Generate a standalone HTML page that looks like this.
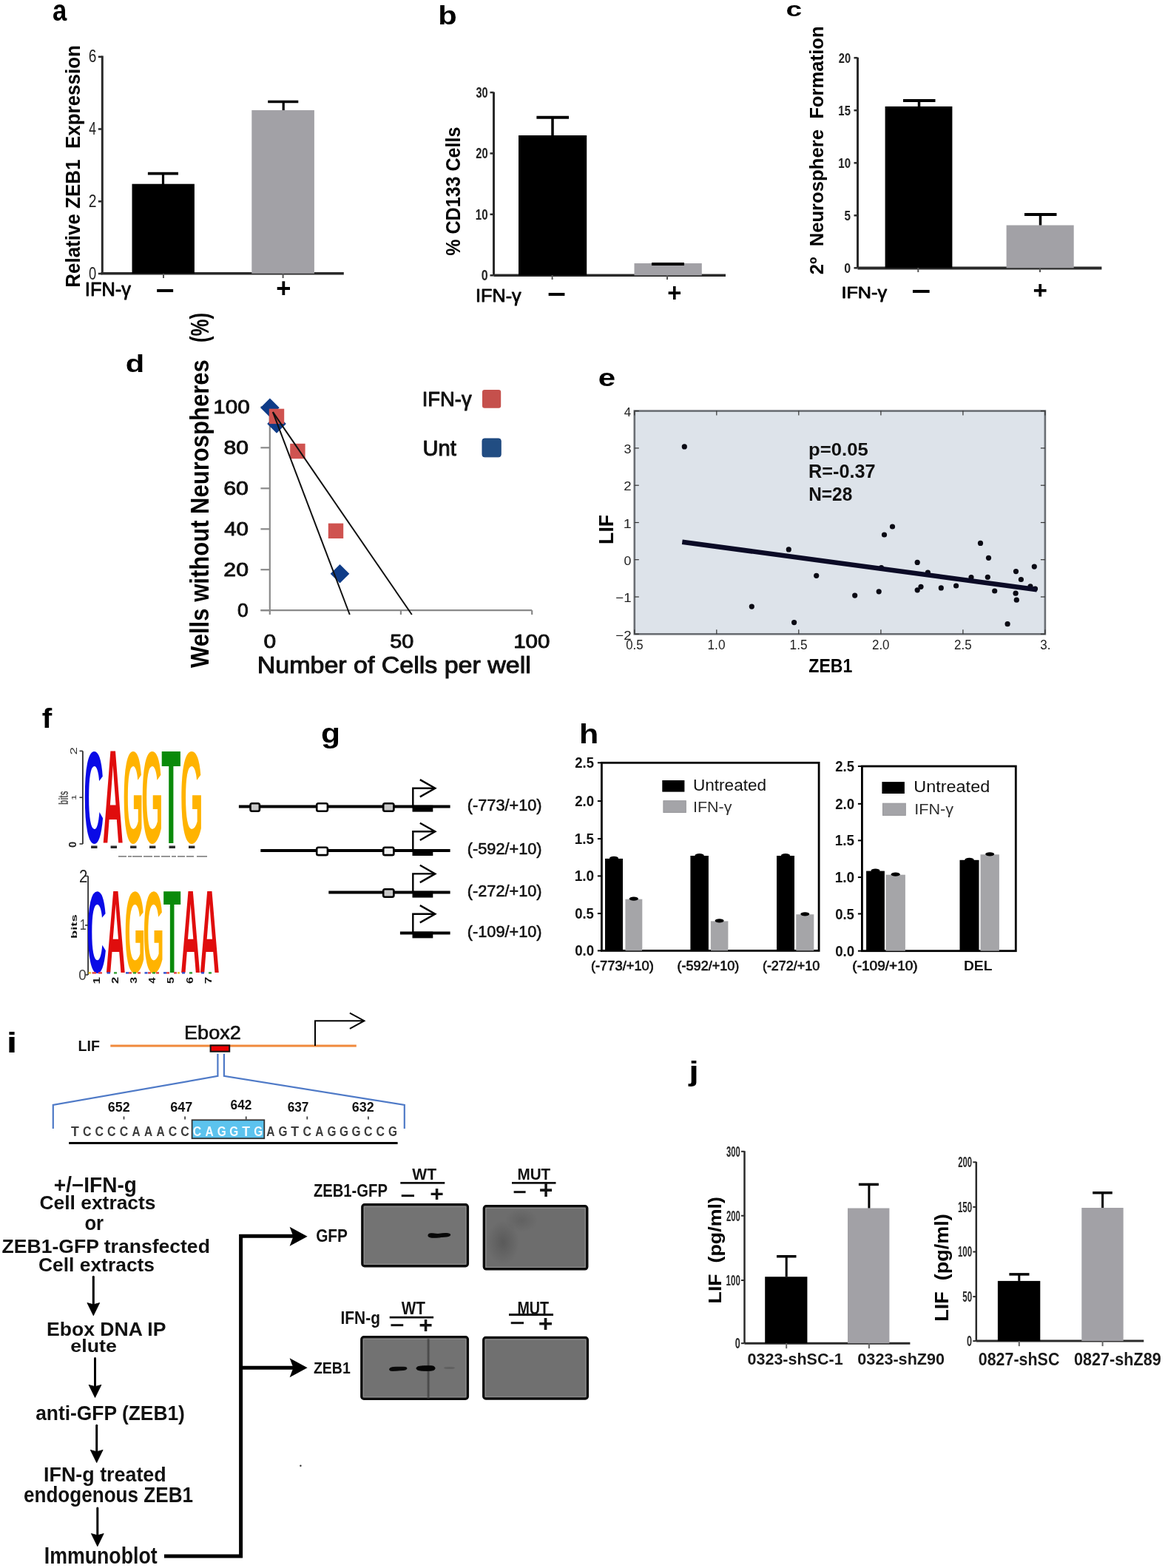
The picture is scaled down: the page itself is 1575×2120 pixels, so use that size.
<!DOCTYPE html>
<html><head><meta charset="utf-8"><title>Figure</title>
<style>html,body{margin:0;padding:0;background:#fff;overflow:hidden;width:1575px;height:2120px;} svg{display:block;filter:blur(0.65px);} text{white-space:pre;}</style>
</head><body>
<svg width="1575" height="2120" viewBox="0 0 1575 2120">
<rect x="0" y="0" width="1575" height="2120" fill="#fff"/>
<text x="70.88" y="28.20" font-size="40.70" font-family='"Liberation Sans", Arial, sans-serif' font-weight="bold" fill="#000" textLength="19.30" lengthAdjust="spacingAndGlyphs">a</text>
<line x1="138.3" y1="75.5" x2="138.3" y2="370.0" stroke="#2a2a2a" stroke-width="3"/>
<line x1="136.4" y1="369.8" x2="464.8" y2="369.8" stroke="#2a2a2a" stroke-width="3.6"/>
<line x1="132.8" y1="76.8" x2="138.3" y2="76.8" stroke="#2a2a2a" stroke-width="2.5"/>
<text x="119.73" y="84.30" font-size="23.26" font-family='"Liberation Sans", Arial, sans-serif' fill="#222" textLength="10.61" lengthAdjust="spacingAndGlyphs">6</text>
<line x1="132.8" y1="174.5" x2="138.3" y2="174.5" stroke="#2a2a2a" stroke-width="2.5"/>
<text x="120.30" y="182.00" font-size="23.26" font-family='"Liberation Sans", Arial, sans-serif' fill="#222" textLength="9.71" lengthAdjust="spacingAndGlyphs">4</text>
<line x1="132.8" y1="272.3" x2="138.3" y2="272.3" stroke="#2a2a2a" stroke-width="2.5"/>
<text x="119.73" y="279.80" font-size="23.26" font-family='"Liberation Sans", Arial, sans-serif' fill="#222" textLength="10.74" lengthAdjust="spacingAndGlyphs">2</text>
<line x1="132.8" y1="370.0" x2="138.3" y2="370.0" stroke="#2a2a2a" stroke-width="2.5"/>
<text x="119.98" y="377.50" font-size="23.26" font-family='"Liberation Sans", Arial, sans-serif' fill="#222" textLength="10.24" lengthAdjust="spacingAndGlyphs">0</text>
<rect x="178.5" y="248.7" width="84.4" height="121.1" fill="#000"/>
<rect x="340.3" y="149.0" width="84.6" height="220.8" fill="#a2a1a6"/>
<line x1="220.5" y1="249.0" x2="220.5" y2="234.6" stroke="#000" stroke-width="3.2"/>
<line x1="199.9" y1="234.6" x2="241.0" y2="234.6" stroke="#000" stroke-width="3.7"/>
<line x1="383.2" y1="149.0" x2="383.2" y2="137.5" stroke="#000" stroke-width="3.2"/>
<line x1="362.2" y1="137.5" x2="403.3" y2="137.5" stroke="#000" stroke-width="3.7"/>
<line x1="221.0" y1="370.0" x2="221.0" y2="376.0" stroke="#555" stroke-width="2"/>
<line x1="382.6" y1="370.0" x2="382.6" y2="376.0" stroke="#555" stroke-width="2"/>
<text transform="translate(108.30,387.00) rotate(-90)" x="-1.74" y="0" font-size="27.18" font-family='"Liberation Sans", Arial, sans-serif' font-weight="bold" fill="#000" textLength="327.65" lengthAdjust="spacingAndGlyphs">Relative ZEB1  Expression</text>
<text x="114.85" y="400.40" font-size="25.44" font-family='"Liberation Sans", Arial, sans-serif' fill="#000" textLength="62.13" lengthAdjust="spacingAndGlyphs" stroke="#000" stroke-width="0.8" stroke-linejoin="round">IFN-γ</text>
<text x="210.18" y="404.86" font-size="36.57" font-family='"Liberation Sans", Arial, sans-serif' font-weight="bold" fill="#000" textLength="25.62" lengthAdjust="spacingAndGlyphs">−</text>
<text x="373.15" y="401.94" font-size="37.42" font-family='"Liberation Sans", Arial, sans-serif' font-weight="bold" fill="#000" textLength="20.15" lengthAdjust="spacingAndGlyphs">+</text>
<text x="592.15" y="33.17" font-size="34.18" font-family='"Liberation Sans", Arial, sans-serif' font-weight="bold" fill="#000" textLength="25.46" lengthAdjust="spacingAndGlyphs">b</text>
<line x1="667.5" y1="124.5" x2="667.5" y2="372.3" stroke="#2a2a2a" stroke-width="3"/>
<line x1="667.5" y1="372.3" x2="981.0" y2="372.3" stroke="#2a2a2a" stroke-width="3.6"/>
<line x1="662.5" y1="125.0" x2="667.5" y2="125.0" stroke="#2a2a2a" stroke-width="2.5"/>
<text x="643.47" y="131.75" font-size="19.62" font-family='"Liberation Sans", Arial, sans-serif' font-weight="bold" fill="#222" textLength="16.13" lengthAdjust="spacingAndGlyphs">30</text>
<line x1="662.5" y1="207.4" x2="667.5" y2="207.4" stroke="#2a2a2a" stroke-width="2.5"/>
<text x="643.29" y="214.15" font-size="19.62" font-family='"Liberation Sans", Arial, sans-serif' font-weight="bold" fill="#222" textLength="16.31" lengthAdjust="spacingAndGlyphs">20</text>
<line x1="662.5" y1="289.8" x2="667.5" y2="289.8" stroke="#2a2a2a" stroke-width="2.5"/>
<text x="642.85" y="296.55" font-size="19.62" font-family='"Liberation Sans", Arial, sans-serif' font-weight="bold" fill="#222" textLength="16.77" lengthAdjust="spacingAndGlyphs">10</text>
<line x1="662.5" y1="372.3" x2="667.5" y2="372.3" stroke="#2a2a2a" stroke-width="2.5"/>
<text x="650.77" y="379.05" font-size="19.62" font-family='"Liberation Sans", Arial, sans-serif' font-weight="bold" fill="#222" textLength="8.89" lengthAdjust="spacingAndGlyphs">0</text>
<rect x="701.0" y="183.0" width="92.2" height="189.3" fill="#000"/>
<rect x="857.5" y="356.0" width="91.3" height="16.3" fill="#a2a1a6"/>
<line x1="747.0" y1="183.0" x2="747.0" y2="158.7" stroke="#000" stroke-width="3.5"/>
<line x1="725.4" y1="158.7" x2="769.0" y2="158.7" stroke="#000" stroke-width="4.0"/>
<line x1="881.0" y1="357.0" x2="925.0" y2="357.0" stroke="#000" stroke-width="4"/>
<line x1="746.6" y1="372.0" x2="746.6" y2="378.0" stroke="#555" stroke-width="2"/>
<line x1="902.0" y1="372.0" x2="902.0" y2="378.0" stroke="#555" stroke-width="2"/>
<text transform="translate(622.40,345.10) rotate(-90)" x="-0.62" y="0" font-size="26.89" font-family='"Liberation Sans", Arial, sans-serif' font-weight="bold" fill="#000" textLength="174.05" lengthAdjust="spacingAndGlyphs">% CD133 Cells</text>
<text x="643.07" y="407.60" font-size="23.55" font-family='"Liberation Sans", Arial, sans-serif' fill="#000" textLength="61.61" lengthAdjust="spacingAndGlyphs" stroke="#000" stroke-width="0.8" stroke-linejoin="round">IFN-γ</text>
<text x="739.80" y="410.16" font-size="36.57" font-family='"Liberation Sans", Arial, sans-serif' font-weight="bold" fill="#000" textLength="25.39" lengthAdjust="spacingAndGlyphs">−</text>
<text x="902.23" y="407.79" font-size="35.45" font-family='"Liberation Sans", Arial, sans-serif' font-weight="bold" fill="#000" textLength="19.10" lengthAdjust="spacingAndGlyphs">+</text>
<text x="1062.48" y="22.03" font-size="27.93" font-family='"Liberation Sans", Arial, sans-serif' font-weight="bold" fill="#000" textLength="21.66" lengthAdjust="spacingAndGlyphs">c</text>
<line x1="1159.5" y1="77.7" x2="1159.5" y2="362.3" stroke="#2a2a2a" stroke-width="3"/>
<line x1="1159.5" y1="362.5" x2="1489.4" y2="362.5" stroke="#2a2a2a" stroke-width="3.8"/>
<line x1="1154.5" y1="78.2" x2="1159.5" y2="78.2" stroke="#2a2a2a" stroke-width="2.5"/>
<text x="1133.79" y="84.70" font-size="18.90" font-family='"Liberation Sans", Arial, sans-serif' font-weight="bold" fill="#222" textLength="16.31" lengthAdjust="spacingAndGlyphs">20</text>
<line x1="1154.5" y1="149.2" x2="1159.5" y2="149.2" stroke="#2a2a2a" stroke-width="2.5"/>
<text x="1133.36" y="155.70" font-size="18.90" font-family='"Liberation Sans", Arial, sans-serif' font-weight="bold" fill="#222" textLength="16.55" lengthAdjust="spacingAndGlyphs">15</text>
<line x1="1154.5" y1="220.3" x2="1159.5" y2="220.3" stroke="#2a2a2a" stroke-width="2.5"/>
<text x="1133.35" y="226.80" font-size="18.90" font-family='"Liberation Sans", Arial, sans-serif' font-weight="bold" fill="#222" textLength="16.77" lengthAdjust="spacingAndGlyphs">10</text>
<line x1="1154.5" y1="291.3" x2="1159.5" y2="291.3" stroke="#2a2a2a" stroke-width="2.5"/>
<text x="1141.43" y="297.80" font-size="18.90" font-family='"Liberation Sans", Arial, sans-serif' font-weight="bold" fill="#222" textLength="8.49" lengthAdjust="spacingAndGlyphs">5</text>
<line x1="1154.5" y1="362.3" x2="1159.5" y2="362.3" stroke="#2a2a2a" stroke-width="2.5"/>
<text x="1141.27" y="368.80" font-size="18.90" font-family='"Liberation Sans", Arial, sans-serif' font-weight="bold" fill="#222" textLength="8.89" lengthAdjust="spacingAndGlyphs">0</text>
<rect x="1196.6" y="143.9" width="90.8" height="218.4" fill="#000"/>
<rect x="1360.6" y="304.5" width="91.1" height="57.8" fill="#a2a1a6"/>
<line x1="1242.5" y1="144.0" x2="1242.5" y2="136.0" stroke="#000" stroke-width="3.5"/>
<line x1="1221.0" y1="136.0" x2="1264.5" y2="136.0" stroke="#000" stroke-width="4.0"/>
<line x1="1406.5" y1="304.5" x2="1406.5" y2="290.0" stroke="#000" stroke-width="3.5"/>
<line x1="1385.0" y1="290.0" x2="1428.5" y2="290.0" stroke="#000" stroke-width="4.0"/>
<line x1="1241.3" y1="362.0" x2="1241.3" y2="368.0" stroke="#555" stroke-width="2"/>
<line x1="1406.0" y1="362.0" x2="1406.0" y2="368.0" stroke="#555" stroke-width="2"/>
<text transform="translate(1113.20,370.40) rotate(-90)" x="-0.89" y="0" font-size="24.86" font-family='"Liberation Sans", Arial, sans-serif' font-weight="bold" fill="#000" textLength="335.88" lengthAdjust="spacingAndGlyphs">2º  Neurosphere  Formation</text>
<text x="1137.47" y="403.20" font-size="22.97" font-family='"Liberation Sans", Arial, sans-serif' fill="#000" textLength="61.61" lengthAdjust="spacingAndGlyphs" stroke="#000" stroke-width="0.8" stroke-linejoin="round">IFN-γ</text>
<text x="1232.12" y="406.16" font-size="36.57" font-family='"Liberation Sans", Arial, sans-serif' font-weight="bold" fill="#000" textLength="26.44" lengthAdjust="spacingAndGlyphs">−</text>
<text x="1396.40" y="403.63" font-size="33.48" font-family='"Liberation Sans", Arial, sans-serif' font-weight="bold" fill="#000" textLength="19.45" lengthAdjust="spacingAndGlyphs">+</text>
<text x="169.69" y="502.97" font-size="33.63" font-family='"Liberation Sans", Arial, sans-serif' font-weight="bold" fill="#000" textLength="25.46" lengthAdjust="spacingAndGlyphs">d</text>
<line x1="364.8" y1="549.0" x2="364.8" y2="825.2" stroke="#8a8a8a" stroke-width="2.2"/>
<line x1="352.4" y1="825.2" x2="719.2" y2="825.2" stroke="#8a8a8a" stroke-width="2.2"/>
<line x1="352.4" y1="550.3" x2="364.8" y2="550.3" stroke="#8a8a8a" stroke-width="2.2"/>
<text x="288.19" y="559.25" font-size="26.02" font-family='"Liberation Sans", Arial, sans-serif' fill="#111" textLength="49.41" lengthAdjust="spacingAndGlyphs" stroke="#111" stroke-width="0.9" stroke-linejoin="round">100</text>
<line x1="352.4" y1="605.3" x2="364.8" y2="605.3" stroke="#8a8a8a" stroke-width="2.2"/>
<text x="302.55" y="614.25" font-size="26.02" font-family='"Liberation Sans", Arial, sans-serif' fill="#111" textLength="33.38" lengthAdjust="spacingAndGlyphs" stroke="#111" stroke-width="0.9" stroke-linejoin="round">80</text>
<line x1="352.4" y1="660.3" x2="364.8" y2="660.3" stroke="#8a8a8a" stroke-width="2.2"/>
<text x="302.32" y="669.25" font-size="26.02" font-family='"Liberation Sans", Arial, sans-serif' fill="#111" textLength="33.62" lengthAdjust="spacingAndGlyphs" stroke="#111" stroke-width="0.9" stroke-linejoin="round">60</text>
<line x1="352.4" y1="715.3" x2="364.8" y2="715.3" stroke="#8a8a8a" stroke-width="2.2"/>
<text x="303.17" y="724.25" font-size="26.02" font-family='"Liberation Sans", Arial, sans-serif' fill="#111" textLength="32.72" lengthAdjust="spacingAndGlyphs" stroke="#111" stroke-width="0.9" stroke-linejoin="round">40</text>
<line x1="352.4" y1="770.2" x2="364.8" y2="770.2" stroke="#8a8a8a" stroke-width="2.2"/>
<text x="302.33" y="779.15" font-size="26.02" font-family='"Liberation Sans", Arial, sans-serif' fill="#111" textLength="33.60" lengthAdjust="spacingAndGlyphs" stroke="#111" stroke-width="0.9" stroke-linejoin="round">20</text>
<line x1="352.4" y1="825.2" x2="364.8" y2="825.2" stroke="#8a8a8a" stroke-width="2.2"/>
<text x="321.12" y="834.15" font-size="26.02" font-family='"Liberation Sans", Arial, sans-serif' fill="#111" textLength="14.66" lengthAdjust="spacingAndGlyphs" stroke="#111" stroke-width="0.9" stroke-linejoin="round">0</text>
<line x1="364.8" y1="825.2" x2="364.8" y2="831.0" stroke="#8a8a8a" stroke-width="2.2"/>
<line x1="541.9" y1="825.2" x2="541.9" y2="831.0" stroke="#8a8a8a" stroke-width="2.2"/>
<line x1="719.2" y1="825.2" x2="719.2" y2="831.0" stroke="#8a8a8a" stroke-width="2.2"/>
<text x="356.58" y="875.95" font-size="25.00" font-family='"Liberation Sans", Arial, sans-serif' fill="#111" textLength="16.64" lengthAdjust="spacingAndGlyphs" stroke="#111" stroke-width="0.9" stroke-linejoin="round">0</text>
<text x="527.30" y="875.95" font-size="25.00" font-family='"Liberation Sans", Arial, sans-serif' fill="#111" textLength="32.08" lengthAdjust="spacingAndGlyphs" stroke="#111" stroke-width="0.9" stroke-linejoin="round">50</text>
<text x="694.20" y="875.95" font-size="25.00" font-family='"Liberation Sans", Arial, sans-serif' fill="#111" textLength="49.20" lengthAdjust="spacingAndGlyphs" stroke="#111" stroke-width="0.9" stroke-linejoin="round">100</text>
<text x="347.81" y="910.20" font-size="31.54" font-family='"Liberation Sans", Arial, sans-serif' fill="#111" textLength="369.96" lengthAdjust="spacingAndGlyphs" stroke="#111" stroke-width="1.0" stroke-linejoin="round">Number of Cells per well</text>
<text transform="translate(281.70,903.00) rotate(-90)" x="-0.03" y="0" font-size="34.74" font-family='"Liberation Sans", Arial, sans-serif' font-weight="bold" fill="#000" textLength="416.90" lengthAdjust="spacingAndGlyphs">Wells without Neurospheres</text>
<text transform="translate(281.70,461.70) rotate(-90)" x="-1.28" y="0" font-size="34.74" font-family='"Liberation Sans", Arial, sans-serif' font-weight="bold" fill="#000" textLength="39.96" lengthAdjust="spacingAndGlyphs">(%)</text>
<text x="570.78" y="549.20" font-size="28.05" font-family='"Liberation Sans", Arial, sans-serif' fill="#111" textLength="66.82" lengthAdjust="spacingAndGlyphs" stroke="#111" stroke-width="1.0" stroke-linejoin="round">IFN-γ</text>
<rect x="652.0" y="527.0" width="25.2" height="24.7" fill="#c5504c" rx="3"/>
<text x="571.46" y="615.60" font-size="29.07" font-family='"Liberation Sans", Arial, sans-serif' fill="#111" textLength="45.26" lengthAdjust="spacingAndGlyphs" stroke="#111" stroke-width="1.0" stroke-linejoin="round">Unt</text>
<rect x="652.0" y="593.0" width="25.2" height="24.8" fill="#214d82" stroke="#17407a" stroke-width="1" rx="3"/>
<path d="M352.1,551.3 L364.9,538.5 L377.7,551.3 L364.9,564.1 Z" fill="#0f3c88"/>
<path d="M361.2,573.0 L374.0,560.2 L386.8,573.0 L374.0,585.8 Z" fill="#0f3c88"/>
<path d="M446.7,775.7 L459.5,762.9 L472.3,775.7 L459.5,788.5 Z" fill="#0f3c88"/>
<rect x="363.8" y="552.7" width="20.4" height="20.4" fill="#cf5350"/>
<rect x="392.2" y="599.8" width="20.4" height="20.4" fill="#cf5350"/>
<rect x="443.8" y="707.6" width="20.4" height="20.4" fill="#cf5350"/>
<line x1="368.9" y1="557.1" x2="472.8" y2="831.0" stroke="#111" stroke-width="2"/>
<line x1="368.9" y1="557.1" x2="556.8" y2="831.0" stroke="#111" stroke-width="2"/>
<text x="808.66" y="522.37" font-size="33.40" font-family='"Liberation Sans", Arial, sans-serif' font-weight="bold" fill="#000" textLength="23.38" lengthAdjust="spacingAndGlyphs">e</text>
<rect x="857.8" y="555.6" width="555.1" height="301.7" fill="#dde3ea" stroke="#6a6e74" stroke-width="2.6"/>
<line x1="857.8" y1="555.6" x2="863.8" y2="555.6" stroke="#333" stroke-width="1.2"/>
<line x1="1406.9" y1="555.6" x2="1412.9" y2="555.6" stroke="#333" stroke-width="1.2"/>
<text x="843.81" y="562.90" font-size="16.86" font-family='"Liberation Sans", Arial, sans-serif' fill="#222" textLength="9.38" lengthAdjust="spacingAndGlyphs">4</text>
<line x1="857.8" y1="605.9" x2="863.8" y2="605.9" stroke="#333" stroke-width="1.2"/>
<line x1="1406.9" y1="605.9" x2="1412.9" y2="605.9" stroke="#333" stroke-width="1.2"/>
<text x="843.52" y="613.18" font-size="16.86" font-family='"Liberation Sans", Arial, sans-serif' fill="#222" textLength="9.97" lengthAdjust="spacingAndGlyphs">3</text>
<line x1="857.8" y1="656.2" x2="863.8" y2="656.2" stroke="#333" stroke-width="1.2"/>
<line x1="1406.9" y1="656.2" x2="1412.9" y2="656.2" stroke="#333" stroke-width="1.2"/>
<text x="843.26" y="663.47" font-size="16.86" font-family='"Liberation Sans", Arial, sans-serif' fill="#222" textLength="10.38" lengthAdjust="spacingAndGlyphs">2</text>
<line x1="857.8" y1="706.5" x2="863.8" y2="706.5" stroke="#333" stroke-width="1.2"/>
<line x1="1406.9" y1="706.5" x2="1412.9" y2="706.5" stroke="#333" stroke-width="1.2"/>
<text x="842.70" y="713.75" font-size="16.86" font-family='"Liberation Sans", Arial, sans-serif' fill="#222" textLength="10.96" lengthAdjust="spacingAndGlyphs">1</text>
<line x1="857.8" y1="756.7" x2="863.8" y2="756.7" stroke="#333" stroke-width="1.2"/>
<line x1="1406.9" y1="756.7" x2="1412.9" y2="756.7" stroke="#333" stroke-width="1.2"/>
<text x="843.51" y="764.03" font-size="16.86" font-family='"Liberation Sans", Arial, sans-serif' fill="#222" textLength="9.89" lengthAdjust="spacingAndGlyphs">0</text>
<line x1="857.8" y1="807.0" x2="863.8" y2="807.0" stroke="#333" stroke-width="1.2"/>
<line x1="1406.9" y1="807.0" x2="1412.9" y2="807.0" stroke="#333" stroke-width="1.2"/>
<text x="832.28" y="814.32" font-size="16.86" font-family='"Liberation Sans", Arial, sans-serif' fill="#222" textLength="21.34" lengthAdjust="spacingAndGlyphs">−1</text>
<line x1="857.8" y1="857.3" x2="863.8" y2="857.3" stroke="#333" stroke-width="1.2"/>
<line x1="1406.9" y1="857.3" x2="1412.9" y2="857.3" stroke="#333" stroke-width="1.2"/>
<text x="832.28" y="864.60" font-size="16.86" font-family='"Liberation Sans", Arial, sans-serif' fill="#222" textLength="21.37" lengthAdjust="spacingAndGlyphs">−2</text>
<line x1="857.8" y1="857.3" x2="857.8" y2="851.3" stroke="#333" stroke-width="1.2"/>
<line x1="857.8" y1="555.6" x2="857.8" y2="561.6" stroke="#333" stroke-width="1.2"/>
<text x="846.14" y="878.00" font-size="17.44" font-family='"Liberation Sans", Arial, sans-serif' fill="#222" textLength="23.36" lengthAdjust="spacingAndGlyphs">0.5</text>
<line x1="968.8" y1="857.3" x2="968.8" y2="851.3" stroke="#333" stroke-width="1.2"/>
<line x1="968.8" y1="555.6" x2="968.8" y2="561.6" stroke="#333" stroke-width="1.2"/>
<text x="956.51" y="878.00" font-size="17.44" font-family='"Liberation Sans", Arial, sans-serif' fill="#222" textLength="23.99" lengthAdjust="spacingAndGlyphs">1.0</text>
<line x1="1079.8" y1="857.3" x2="1079.8" y2="851.3" stroke="#333" stroke-width="1.2"/>
<line x1="1079.8" y1="555.6" x2="1079.8" y2="561.6" stroke="#333" stroke-width="1.2"/>
<text x="1067.52" y="878.00" font-size="17.44" font-family='"Liberation Sans", Arial, sans-serif' fill="#222" textLength="24.04" lengthAdjust="spacingAndGlyphs">1.5</text>
<line x1="1190.9" y1="857.3" x2="1190.9" y2="851.3" stroke="#333" stroke-width="1.2"/>
<line x1="1190.9" y1="555.6" x2="1190.9" y2="561.6" stroke="#333" stroke-width="1.2"/>
<text x="1179.01" y="878.00" font-size="17.44" font-family='"Liberation Sans", Arial, sans-serif' fill="#222" textLength="23.51" lengthAdjust="spacingAndGlyphs">2.0</text>
<line x1="1301.9" y1="857.3" x2="1301.9" y2="851.3" stroke="#333" stroke-width="1.2"/>
<line x1="1301.9" y1="555.6" x2="1301.9" y2="561.6" stroke="#333" stroke-width="1.2"/>
<text x="1290.03" y="878.00" font-size="17.44" font-family='"Liberation Sans", Arial, sans-serif' fill="#222" textLength="23.56" lengthAdjust="spacingAndGlyphs">2.5</text>
<line x1="1412.9" y1="857.3" x2="1412.9" y2="851.3" stroke="#333" stroke-width="1.2"/>
<line x1="1412.9" y1="555.6" x2="1412.9" y2="561.6" stroke="#333" stroke-width="1.2"/>
<text x="1406.25" y="878.00" font-size="17.44" font-family='"Liberation Sans", Arial, sans-serif' fill="#222" textLength="14.20" lengthAdjust="spacingAndGlyphs">3.</text>
<text x="1093.31" y="908.70" font-size="26.60" font-family='"Liberation Sans", Arial, sans-serif' font-weight="bold" fill="#000" textLength="58.93" lengthAdjust="spacingAndGlyphs">ZEB1</text>
<text transform="translate(829.00,734.10) rotate(-90)" x="-1.79" y="0" font-size="28.05" font-family='"Liberation Sans", Arial, sans-serif' font-weight="bold" fill="#000" textLength="40.07" lengthAdjust="spacingAndGlyphs">LIF</text>
<text x="1093.11" y="615.69" font-size="23.18" font-family='"Liberation Sans", Arial, sans-serif' font-weight="bold" fill="#111" textLength="80.61" lengthAdjust="spacingAndGlyphs">p=0.05</text>
<text x="1093.11" y="646.00" font-size="25.44" font-family='"Liberation Sans", Arial, sans-serif' font-weight="bold" fill="#111" textLength="90.50" lengthAdjust="spacingAndGlyphs">R=-0.37</text>
<text x="1093.17" y="677.00" font-size="26.16" font-family='"Liberation Sans", Arial, sans-serif' font-weight="bold" fill="#111" textLength="59.09" lengthAdjust="spacingAndGlyphs">N=28</text>
<circle cx="925.3" cy="603.9" r="3.6" fill="#0a0a14"/>
<circle cx="1016.3" cy="820.1" r="3.6" fill="#0a0a14"/>
<circle cx="1066.3" cy="742.9" r="3.6" fill="#0a0a14"/>
<circle cx="1073.6" cy="841.6" r="3.6" fill="#0a0a14"/>
<circle cx="1103.7" cy="778.3" r="3.6" fill="#0a0a14"/>
<circle cx="1155.7" cy="805.1" r="3.6" fill="#0a0a14"/>
<circle cx="1188.2" cy="799.8" r="3.6" fill="#0a0a14"/>
<circle cx="1191.5" cy="767.7" r="3.6" fill="#0a0a14"/>
<circle cx="1195.5" cy="723.0" r="3.6" fill="#0a0a14"/>
<circle cx="1206.5" cy="712.0" r="3.6" fill="#0a0a14"/>
<circle cx="1240.2" cy="760.4" r="3.6" fill="#0a0a14"/>
<circle cx="1240.2" cy="797.8" r="3.6" fill="#0a0a14"/>
<circle cx="1245.0" cy="793.3" r="3.6" fill="#0a0a14"/>
<circle cx="1254.4" cy="774.2" r="3.6" fill="#0a0a14"/>
<circle cx="1272.3" cy="794.9" r="3.6" fill="#0a0a14"/>
<circle cx="1292.6" cy="792.0" r="3.6" fill="#0a0a14"/>
<circle cx="1313.0" cy="780.7" r="3.6" fill="#0a0a14"/>
<circle cx="1325.5" cy="734.4" r="3.6" fill="#0a0a14"/>
<circle cx="1336.5" cy="754.3" r="3.6" fill="#0a0a14"/>
<circle cx="1335.3" cy="780.3" r="3.6" fill="#0a0a14"/>
<circle cx="1344.7" cy="799.0" r="3.6" fill="#0a0a14"/>
<circle cx="1362.1" cy="843.7" r="3.6" fill="#0a0a14"/>
<circle cx="1373.5" cy="772.6" r="3.6" fill="#0a0a14"/>
<circle cx="1380.4" cy="783.5" r="3.6" fill="#0a0a14"/>
<circle cx="1373.1" cy="802.2" r="3.6" fill="#0a0a14"/>
<circle cx="1374.3" cy="811.2" r="3.6" fill="#0a0a14"/>
<circle cx="1393.0" cy="792.9" r="3.6" fill="#0a0a14"/>
<circle cx="1398.3" cy="766.1" r="3.6" fill="#0a0a14"/>
<circle cx="1399.5" cy="796.1" r="3.6" fill="#0a0a14"/>
<line x1="922.3" y1="732.7" x2="1401.8" y2="797.3" stroke="#0b0b26" stroke-width="6.5"/>
<text x="56.81" y="984.00" font-size="36.71" font-family='"Liberation Sans", Arial, sans-serif' font-weight="bold" fill="#000" textLength="13.51" lengthAdjust="spacingAndGlyphs">f</text>
<line x1="111.9" y1="1015.4" x2="111.9" y2="1141.0" stroke="#333" stroke-width="1.8"/>
<line x1="107.5" y1="1015.4" x2="111.9" y2="1015.4" stroke="#333" stroke-width="1.6"/>
<line x1="107.5" y1="1078.2" x2="111.9" y2="1078.2" stroke="#333" stroke-width="1.6"/>
<line x1="107.5" y1="1141.0" x2="111.9" y2="1141.0" stroke="#333" stroke-width="1.6"/>
<text transform="translate(103.50,1019.60) rotate(-90)" x="-0.95" y="0" font-size="13.03" font-family='"Liberation Sans", Arial, sans-serif' fill="#333" textLength="10.50" lengthAdjust="spacingAndGlyphs">2</text>
<text transform="translate(103.00,1081.00) rotate(-90)" x="-1.06" y="0" font-size="8.72" font-family='"Liberation Sans", Arial, sans-serif' fill="#333" textLength="7.74" lengthAdjust="spacingAndGlyphs">1</text>
<text transform="translate(103.36,1145.30) rotate(-90)" x="-0.58" y="0" font-size="13.84" font-family='"Liberation Sans", Arial, sans-serif' font-weight="bold" fill="#222" textLength="8.19" lengthAdjust="spacingAndGlyphs">0</text>
<text transform="translate(92.12,1087.30) rotate(-90)" x="-0.69" y="0" font-size="18.93" font-family='"Liberation Sans", Arial, sans-serif' font-weight="bold" fill="#555" textLength="18.62" lengthAdjust="spacingAndGlyphs">bits</text>
<text x="113.17" y="1138.68" font-size="175.70" font-family='"Liberation Sans", Arial, sans-serif' font-weight="bold" fill="#0a0ae6" textLength="26.95" lengthAdjust="spacingAndGlyphs">C</text>
<text x="138.84" y="1140.40" font-size="180.82" font-family='"Liberation Sans", Arial, sans-serif' font-weight="bold" fill="#e00d0d" textLength="27.88" lengthAdjust="spacingAndGlyphs">A</text>
<text x="166.36" y="1138.68" font-size="175.70" font-family='"Liberation Sans", Arial, sans-serif' font-weight="bold" fill="#ffb300" textLength="27.32" lengthAdjust="spacingAndGlyphs">G</text>
<text x="191.37" y="1138.68" font-size="175.70" font-family='"Liberation Sans", Arial, sans-serif' font-weight="bold" fill="#ffb300" textLength="28.93" lengthAdjust="spacingAndGlyphs">G</text>
<text x="218.22" y="1140.40" font-size="180.82" font-family='"Liberation Sans", Arial, sans-serif' font-weight="bold" fill="#0a8a0a" textLength="26.14" lengthAdjust="spacingAndGlyphs">T</text>
<text x="243.69" y="1138.68" font-size="175.70" font-family='"Liberation Sans", Arial, sans-serif' font-weight="bold" fill="#ffb300" textLength="30.55" lengthAdjust="spacingAndGlyphs">G</text>
<rect x="123.1" y="1143.5" width="8.4" height="3.5" fill="#2a2a2a"/>
<rect x="149.6" y="1143.5" width="8.4" height="3.5" fill="#2a2a2a"/>
<rect x="176.1" y="1143.5" width="8.4" height="3.5" fill="#2a2a2a"/>
<rect x="202.0" y="1143.5" width="8.4" height="3.5" fill="#2a2a2a"/>
<rect x="228.5" y="1143.5" width="8.4" height="3.5" fill="#2a2a2a"/>
<rect x="255.0" y="1143.5" width="8.4" height="3.5" fill="#2a2a2a"/>
<rect x="160.0" y="1157.0" width="11.0" height="1.8" fill="#8a8a8a"/>
<rect x="173.0" y="1157.0" width="5.0" height="1.8" fill="#8a8a8a"/>
<rect x="179.0" y="1157.0" width="13.0" height="1.8" fill="#8a8a8a"/>
<rect x="194.0" y="1157.0" width="12.0" height="1.8" fill="#8a8a8a"/>
<rect x="208.0" y="1157.0" width="8.0" height="1.8" fill="#8a8a8a"/>
<rect x="218.0" y="1157.0" width="12.0" height="1.8" fill="#8a8a8a"/>
<rect x="232.0" y="1157.0" width="6.0" height="1.8" fill="#8a8a8a"/>
<rect x="240.0" y="1157.0" width="10.0" height="1.8" fill="#8a8a8a"/>
<rect x="252.0" y="1157.0" width="10.0" height="1.8" fill="#8a8a8a"/>
<rect x="266.0" y="1157.0" width="14.0" height="1.8" fill="#8a8a8a"/>
<line x1="119.1" y1="1184.5" x2="119.1" y2="1318.0" stroke="#333" stroke-width="1.8"/>
<line x1="115.0" y1="1184.5" x2="119.1" y2="1184.5" stroke="#333" stroke-width="1.6"/>
<line x1="115.0" y1="1251.0" x2="119.1" y2="1251.0" stroke="#333" stroke-width="1.6"/>
<line x1="115.0" y1="1318.0" x2="119.1" y2="1318.0" stroke="#333" stroke-width="1.6"/>
<text x="106.97" y="1192.80" font-size="24.06" font-family='"Liberation Sans", Arial, sans-serif' fill="#222" textLength="11.35" lengthAdjust="spacingAndGlyphs">2</text>
<text x="107.76" y="1257.00" font-size="20.35" font-family='"Liberation Sans", Arial, sans-serif' fill="#444" textLength="9.03" lengthAdjust="spacingAndGlyphs">1</text>
<text x="106.26" y="1324.81" font-size="19.77" font-family='"Liberation Sans", Arial, sans-serif' fill="#444" textLength="10.47" lengthAdjust="spacingAndGlyphs">0</text>
<text transform="translate(103.89,1267.80) rotate(-90)" x="-1.22" y="0" font-size="11.44" font-family='"Liberation Sans", Arial, sans-serif' font-weight="bold" fill="#111" textLength="32.77" lengthAdjust="spacingAndGlyphs">bits</text>
<text x="117.60" y="1313.68" font-size="155.93" font-family='"Liberation Sans", Arial, sans-serif' font-weight="bold" fill="#0a0ae6" textLength="26.40" lengthAdjust="spacingAndGlyphs">C</text>
<text x="143.08" y="1315.20" font-size="160.47" font-family='"Liberation Sans", Arial, sans-serif' font-weight="bold" fill="#e00d0d" textLength="26.70" lengthAdjust="spacingAndGlyphs">A</text>
<text x="168.21" y="1313.68" font-size="155.93" font-family='"Liberation Sans", Arial, sans-serif' font-weight="bold" fill="#ffb300" textLength="28.24" lengthAdjust="spacingAndGlyphs">G</text>
<text x="193.52" y="1313.68" font-size="155.93" font-family='"Liberation Sans", Arial, sans-serif' font-weight="bold" fill="#ffb300" textLength="28.13" lengthAdjust="spacingAndGlyphs">G</text>
<text x="220.76" y="1315.20" font-size="160.47" font-family='"Liberation Sans", Arial, sans-serif' font-weight="bold" fill="#0a8a0a" textLength="23.86" lengthAdjust="spacingAndGlyphs">T</text>
<text x="244.18" y="1315.20" font-size="160.47" font-family='"Liberation Sans", Arial, sans-serif' font-weight="bold" fill="#e00d0d" textLength="26.80" lengthAdjust="spacingAndGlyphs">A</text>
<text x="269.98" y="1315.20" font-size="160.47" font-family='"Liberation Sans", Arial, sans-serif' font-weight="bold" fill="#e00d0d" textLength="26.70" lengthAdjust="spacingAndGlyphs">A</text>
<rect x="119.5" y="1314.2" width="3.5" height="2.4" fill="#f0c020"/>
<rect x="124.5" y="1314.2" width="5.5" height="2.4" fill="#e04040"/>
<rect x="133.0" y="1314.2" width="5.0" height="2.4" fill="#e04040"/>
<rect x="144.5" y="1314.2" width="4.5" height="2.4" fill="#3050d0"/>
<rect x="154.0" y="1314.2" width="4.0" height="2.4" fill="#30a030"/>
<rect x="170.0" y="1314.2" width="4.0" height="2.4" fill="#3050d0"/>
<rect x="174.0" y="1314.2" width="4.0" height="2.4" fill="#e04040"/>
<rect x="180.0" y="1314.2" width="4.0" height="2.4" fill="#30a030"/>
<rect x="186.0" y="1314.2" width="4.0" height="2.4" fill="#e04040"/>
<rect x="195.5" y="1314.2" width="4.0" height="2.4" fill="#3050d0"/>
<rect x="200.0" y="1314.2" width="4.0" height="2.4" fill="#e04040"/>
<rect x="206.0" y="1314.2" width="4.0" height="2.4" fill="#30a030"/>
<rect x="211.0" y="1314.2" width="4.0" height="2.4" fill="#e04040"/>
<rect x="221.0" y="1314.2" width="4.0" height="2.4" fill="#3050d0"/>
<rect x="225.0" y="1314.2" width="4.0" height="2.4" fill="#e04040"/>
<rect x="235.0" y="1314.2" width="4.0" height="2.4" fill="#e04040"/>
<rect x="240.0" y="1314.2" width="3.0" height="2.4" fill="#f0c020"/>
<rect x="246.0" y="1314.2" width="4.0" height="2.4" fill="#3050d0"/>
<rect x="256.0" y="1314.2" width="4.0" height="2.4" fill="#30a030"/>
<rect x="272.0" y="1314.2" width="4.0" height="2.4" fill="#3050d0"/>
<rect x="282.0" y="1314.2" width="4.0" height="2.4" fill="#30a030"/>
<text transform="translate(135.10,1329.50) rotate(-90)" x="-1.08" y="0" font-size="13.37" font-family='"Liberation Sans", Arial, sans-serif' font-weight="bold" fill="#111" textLength="9.56" lengthAdjust="spacingAndGlyphs">1</text>
<text transform="translate(160.23,1329.50) rotate(-90)" x="-0.58" y="0" font-size="13.18" font-family='"Liberation Sans", Arial, sans-serif' font-weight="bold" fill="#111" textLength="9.24" lengthAdjust="spacingAndGlyphs">2</text>
<text transform="translate(185.21,1329.50) rotate(-90)" x="-0.37" y="0" font-size="12.97" font-family='"Liberation Sans", Arial, sans-serif' font-weight="bold" fill="#111" textLength="8.95" lengthAdjust="spacingAndGlyphs">3</text>
<text transform="translate(210.49,1329.50) rotate(-90)" x="-0.23" y="0" font-size="13.37" font-family='"Liberation Sans", Arial, sans-serif' font-weight="bold" fill="#111" textLength="8.31" lengthAdjust="spacingAndGlyphs">4</text>
<text transform="translate(235.49,1329.50) rotate(-90)" x="-0.49" y="0" font-size="13.19" font-family='"Liberation Sans", Arial, sans-serif' font-weight="bold" fill="#111" textLength="8.94" lengthAdjust="spacingAndGlyphs">5</text>
<text transform="translate(260.62,1329.50) rotate(-90)" x="-0.61" y="0" font-size="12.99" font-family='"Liberation Sans", Arial, sans-serif' font-weight="bold" fill="#111" textLength="9.20" lengthAdjust="spacingAndGlyphs">6</text>
<text transform="translate(285.88,1329.50) rotate(-90)" x="-0.73" y="0" font-size="13.37" font-family='"Liberation Sans", Arial, sans-serif' font-weight="bold" fill="#111" textLength="9.48" lengthAdjust="spacingAndGlyphs">7</text>
<text x="433.95" y="1003.75" font-size="36.11" font-family='"Liberation Sans", Arial, sans-serif' font-weight="bold" fill="#000" textLength="25.99" lengthAdjust="spacingAndGlyphs">g</text>
<line x1="322.9" y1="1090.6" x2="608.6" y2="1090.6" stroke="#000" stroke-width="4"/>
<rect x="338.5" y="1086.3" width="12.4" height="10.4" fill="#c8c8c8" stroke="#000" stroke-width="2.6" rx="2.2"/>
<rect x="428.2" y="1086.3" width="14.7" height="10.4" fill="#fff" stroke="#000" stroke-width="2.6" rx="2.2"/>
<rect x="518.2" y="1086.3" width="14.2" height="10.4" fill="#c8c8c8" stroke="#000" stroke-width="2.6" rx="2.2"/>
<rect x="557.5" y="1088.8" width="27.8" height="8.8" fill="#000"/>
<path d="M558.3,1090.6 L558.3,1065.7 L587,1065.7" stroke="#000" stroke-width="2.4" fill="none"/>
<path d="M567.8,1054.1 L588.3,1065.7 L567.8,1077.4" stroke="#000" stroke-width="2.4" fill="none" stroke-linejoin="miter"/>
<text x="631.86" y="1095.77" font-size="21.90" font-family='"Liberation Sans", Arial, sans-serif' fill="#111" textLength="100.59" lengthAdjust="spacingAndGlyphs" stroke="#111" stroke-width="0.6" stroke-linejoin="round">(-773/+10)</text>
<line x1="352.3" y1="1150.0" x2="608.6" y2="1150.0" stroke="#000" stroke-width="4"/>
<rect x="428.2" y="1145.7" width="14.7" height="10.4" fill="#fff" stroke="#000" stroke-width="2.6" rx="2.2"/>
<rect x="518.2" y="1145.7" width="14.2" height="10.4" fill="#f0f0f0" stroke="#000" stroke-width="2.6" rx="2.2"/>
<rect x="557.5" y="1148.2" width="27.8" height="8.8" fill="#000"/>
<path d="M558.3,1150.0 L558.3,1124.3 L587,1124.3" stroke="#000" stroke-width="2.4" fill="none"/>
<path d="M567.8,1112.7 L588.3,1124.3 L567.8,1136.0" stroke="#000" stroke-width="2.4" fill="none" stroke-linejoin="miter"/>
<text x="631.86" y="1155.17" font-size="21.90" font-family='"Liberation Sans", Arial, sans-serif' fill="#111" textLength="100.59" lengthAdjust="spacingAndGlyphs" stroke="#111" stroke-width="0.6" stroke-linejoin="round">(-592/+10)</text>
<line x1="444.3" y1="1206.6" x2="608.6" y2="1206.6" stroke="#000" stroke-width="4"/>
<rect x="518.2" y="1202.3" width="14.2" height="10.4" fill="#c8c8c8" stroke="#000" stroke-width="2.6" rx="2.2"/>
<rect x="557.5" y="1204.8" width="27.8" height="8.8" fill="#000"/>
<path d="M558.3,1206.6 L558.3,1181.4 L587,1181.4" stroke="#000" stroke-width="2.4" fill="none"/>
<path d="M567.8,1169.8 L588.3,1181.4 L567.8,1193.1" stroke="#000" stroke-width="2.4" fill="none" stroke-linejoin="miter"/>
<text x="631.86" y="1211.77" font-size="21.90" font-family='"Liberation Sans", Arial, sans-serif' fill="#111" textLength="100.59" lengthAdjust="spacingAndGlyphs" stroke="#111" stroke-width="0.6" stroke-linejoin="round">(-272/+10)</text>
<line x1="540.9" y1="1261.4" x2="608.6" y2="1261.4" stroke="#000" stroke-width="4"/>
<rect x="557.5" y="1259.6" width="27.8" height="8.8" fill="#000"/>
<path d="M558.3,1261.4 L558.3,1235.7 L587,1235.7" stroke="#000" stroke-width="2.4" fill="none"/>
<path d="M567.8,1224.1 L588.3,1235.7 L567.8,1247.4" stroke="#000" stroke-width="2.4" fill="none" stroke-linejoin="miter"/>
<text x="631.86" y="1266.57" font-size="21.90" font-family='"Liberation Sans", Arial, sans-serif' fill="#111" textLength="100.59" lengthAdjust="spacingAndGlyphs" stroke="#111" stroke-width="0.6" stroke-linejoin="round">(-109/+10)</text>
<text x="783.00" y="1005.40" font-size="36.30" font-family='"Liberation Sans", Arial, sans-serif' font-weight="bold" fill="#000" textLength="26.27" lengthAdjust="spacingAndGlyphs">h</text>
<rect x="813.4" y="1031.3" width="293.7" height="254.1" fill="none" stroke="#000" stroke-width="2.8"/>
<line x1="807.9" y1="1031.3" x2="813.4" y2="1031.3" stroke="#000" stroke-width="2"/>
<text x="777.26" y="1038.30" font-size="20.35" font-family='"Liberation Sans", Arial, sans-serif' font-weight="bold" fill="#111" textLength="25.65" lengthAdjust="spacingAndGlyphs">2.5</text>
<line x1="807.9" y1="1083.1" x2="813.4" y2="1083.1" stroke="#000" stroke-width="2"/>
<text x="777.25" y="1090.10" font-size="20.35" font-family='"Liberation Sans", Arial, sans-serif' font-weight="bold" fill="#111" textLength="25.91" lengthAdjust="spacingAndGlyphs">2.0</text>
<line x1="807.9" y1="1134.1" x2="813.4" y2="1134.1" stroke="#000" stroke-width="2"/>
<text x="776.71" y="1141.10" font-size="20.35" font-family='"Liberation Sans", Arial, sans-serif' font-weight="bold" fill="#111" textLength="26.21" lengthAdjust="spacingAndGlyphs">1.5</text>
<line x1="807.9" y1="1184.4" x2="813.4" y2="1184.4" stroke="#000" stroke-width="2"/>
<text x="776.70" y="1191.40" font-size="20.35" font-family='"Liberation Sans", Arial, sans-serif' font-weight="bold" fill="#111" textLength="26.48" lengthAdjust="spacingAndGlyphs">1.0</text>
<line x1="807.9" y1="1235.1" x2="813.4" y2="1235.1" stroke="#000" stroke-width="2"/>
<text x="777.17" y="1242.10" font-size="20.35" font-family='"Liberation Sans", Arial, sans-serif' font-weight="bold" fill="#111" textLength="25.75" lengthAdjust="spacingAndGlyphs">0.5</text>
<line x1="807.9" y1="1285.4" x2="813.4" y2="1285.4" stroke="#000" stroke-width="2"/>
<text x="777.16" y="1292.40" font-size="20.35" font-family='"Liberation Sans", Arial, sans-serif' font-weight="bold" fill="#111" textLength="26.01" lengthAdjust="spacingAndGlyphs">0.0</text>
<rect x="818.0" y="1160.9" width="24.0" height="124.5" fill="#000"/>
<ellipse cx="830.0" cy="1160.4" rx="6" ry="2.6" fill="#000"/>
<rect x="845.4" y="1215.7" width="22.9" height="69.7" fill="#a5a5a8"/>
<ellipse cx="856.8" cy="1215.2" rx="6" ry="2.6" fill="#000"/>
<rect x="933.4" y="1157.0" width="24.5" height="128.4" fill="#000"/>
<ellipse cx="945.6" cy="1156.5" rx="6" ry="2.6" fill="#000"/>
<rect x="960.9" y="1245.4" width="23.5" height="40.0" fill="#a5a5a8"/>
<ellipse cx="972.6" cy="1244.9" rx="6" ry="2.6" fill="#000"/>
<rect x="1050.0" y="1157.0" width="24.0" height="128.4" fill="#000"/>
<ellipse cx="1062.0" cy="1156.5" rx="6" ry="2.6" fill="#000"/>
<rect x="1076.3" y="1236.3" width="24.0" height="49.1" fill="#a5a5a8"/>
<ellipse cx="1088.3" cy="1235.8" rx="6" ry="2.6" fill="#000"/>
<rect x="895.3" y="1055.0" width="30.1" height="15.6" fill="#000"/>
<text x="936.96" y="1068.60" font-size="21.22" font-family='"Liberation Sans", Arial, sans-serif' fill="#111" textLength="99.20" lengthAdjust="spacingAndGlyphs">Untreated</text>
<rect x="896.9" y="1082.7" width="30.4" height="15.8" fill="#a4a4a8" stroke="#98989c" stroke-width="1"/>
<text x="937.02" y="1097.50" font-size="19.77" font-family='"Liberation Sans", Arial, sans-serif' fill="#2e2e2e" textLength="52.45" lengthAdjust="spacingAndGlyphs">IFN-γ</text>
<text x="798.91" y="1312.04" font-size="18.89" font-family='"Liberation Sans", Arial, sans-serif' fill="#111" textLength="84.97" lengthAdjust="spacingAndGlyphs" stroke="#111" stroke-width="0.7" stroke-linejoin="round">(-773/+10)</text>
<text x="915.53" y="1312.04" font-size="18.89" font-family='"Liberation Sans", Arial, sans-serif' fill="#111" textLength="83.84" lengthAdjust="spacingAndGlyphs" stroke="#111" stroke-width="0.7" stroke-linejoin="round">(-592/+10)</text>
<text x="1030.94" y="1312.04" font-size="18.89" font-family='"Liberation Sans", Arial, sans-serif' fill="#111" textLength="77.21" lengthAdjust="spacingAndGlyphs" stroke="#111" stroke-width="0.7" stroke-linejoin="round">(-272/+10</text>
<rect x="1165.4" y="1036.0" width="207.9" height="249.7" fill="none" stroke="#000" stroke-width="2.8"/>
<line x1="1159.9" y1="1036.0" x2="1165.4" y2="1036.0" stroke="#000" stroke-width="2"/>
<text x="1129.26" y="1043.00" font-size="20.35" font-family='"Liberation Sans", Arial, sans-serif' font-weight="bold" fill="#111" textLength="25.65" lengthAdjust="spacingAndGlyphs">2.5</text>
<line x1="1159.9" y1="1086.8" x2="1165.4" y2="1086.8" stroke="#000" stroke-width="2"/>
<text x="1129.25" y="1093.80" font-size="20.35" font-family='"Liberation Sans", Arial, sans-serif' font-weight="bold" fill="#111" textLength="25.91" lengthAdjust="spacingAndGlyphs">2.0</text>
<line x1="1159.9" y1="1136.4" x2="1165.4" y2="1136.4" stroke="#000" stroke-width="2"/>
<text x="1128.71" y="1143.40" font-size="20.35" font-family='"Liberation Sans", Arial, sans-serif' font-weight="bold" fill="#111" textLength="26.21" lengthAdjust="spacingAndGlyphs">1.5</text>
<line x1="1159.9" y1="1186.1" x2="1165.4" y2="1186.1" stroke="#000" stroke-width="2"/>
<text x="1128.70" y="1193.10" font-size="20.35" font-family='"Liberation Sans", Arial, sans-serif' font-weight="bold" fill="#111" textLength="26.48" lengthAdjust="spacingAndGlyphs">1.0</text>
<line x1="1159.9" y1="1235.5" x2="1165.4" y2="1235.5" stroke="#000" stroke-width="2"/>
<text x="1129.17" y="1242.50" font-size="20.35" font-family='"Liberation Sans", Arial, sans-serif' font-weight="bold" fill="#111" textLength="25.75" lengthAdjust="spacingAndGlyphs">0.5</text>
<line x1="1159.9" y1="1285.7" x2="1165.4" y2="1285.7" stroke="#000" stroke-width="2"/>
<text x="1129.16" y="1292.70" font-size="20.35" font-family='"Liberation Sans", Arial, sans-serif' font-weight="bold" fill="#111" textLength="26.01" lengthAdjust="spacingAndGlyphs">0.0</text>
<rect x="1171.1" y="1177.6" width="24.8" height="108.1" fill="#000"/>
<ellipse cx="1183.5" cy="1177.1" rx="6" ry="2.6" fill="#000"/>
<rect x="1197.5" y="1182.7" width="26.4" height="103.0" fill="#a5a5a8"/>
<ellipse cx="1210.7" cy="1182.2" rx="6" ry="2.6" fill="#000"/>
<rect x="1297.5" y="1162.8" width="26.0" height="122.9" fill="#000"/>
<ellipse cx="1310.5" cy="1162.3" rx="6" ry="2.6" fill="#000"/>
<rect x="1325.5" y="1155.3" width="25.4" height="130.4" fill="#a5a5a8"/>
<ellipse cx="1338.2" cy="1154.8" rx="6" ry="2.6" fill="#000"/>
<rect x="1192.4" y="1057.1" width="30.5" height="15.9" fill="#000"/>
<text x="1235.29" y="1071.00" font-size="21.66" font-family='"Liberation Sans", Arial, sans-serif' fill="#111" textLength="102.92" lengthAdjust="spacingAndGlyphs">Untreated</text>
<rect x="1193.5" y="1086.2" width="30.8" height="16.2" fill="#a4a4a8" stroke="#98989c" stroke-width="1"/>
<text x="1236.20" y="1101.40" font-size="20.35" font-family='"Liberation Sans", Arial, sans-serif' fill="#2e2e2e" textLength="52.87" lengthAdjust="spacingAndGlyphs">IFN-γ</text>
<text x="1152.37" y="1312.04" font-size="18.89" font-family='"Liberation Sans", Arial, sans-serif' fill="#111" textLength="88.26" lengthAdjust="spacingAndGlyphs" stroke="#111" stroke-width="0.7" stroke-linejoin="round">(-109/+10)</text>
<text x="1302.91" y="1311.70" font-size="17.73" font-family='"Liberation Sans", Arial, sans-serif' font-weight="bold" fill="#111" textLength="38.48" lengthAdjust="spacingAndGlyphs">DEL</text>
<text x="8.74" y="1422.90" font-size="39.33" font-family='"Liberation Sans", Arial, sans-serif' font-weight="bold" fill="#000" textLength="14.58" lengthAdjust="spacingAndGlyphs">i</text>
<text x="105.59" y="1421.00" font-size="20.06" font-family='"Liberation Sans", Arial, sans-serif' font-weight="bold" fill="#111" textLength="29.43" lengthAdjust="spacingAndGlyphs">LIF</text>
<line x1="149.3" y1="1414.0" x2="481.8" y2="1414.0" stroke="#f0893c" stroke-width="3.2"/>
<rect x="284.6" y="1413.4" width="25.6" height="8.3" fill="#ec0000" stroke="#111" stroke-width="2"/>
<text x="248.98" y="1404.70" font-size="25.73" font-family='"Liberation Sans", Arial, sans-serif' fill="#111" textLength="76.89" lengthAdjust="spacingAndGlyphs" stroke="#111" stroke-width="0.6" stroke-linejoin="round">Ebox2</text>
<path d="M426,1414 L426,1380.2 L492,1380.2" stroke="#000" stroke-width="2" fill="none"/>
<path d="M472.9,1369.6 L492.4,1380.2 L472.9,1390.9" stroke="#000" stroke-width="2" fill="none"/>
<path d="M294.4,1424.7 L294.4,1454.9 L71.8,1494 L71.8,1526" stroke="#4f7ac7" stroke-width="2.2" fill="none"/>
<path d="M302.9,1424.7 L302.9,1454.9 L546.8,1494 L546.8,1526" stroke="#4f7ac7" stroke-width="2.2" fill="none"/>
<text x="145.84" y="1502.90" font-size="18.17" font-family='"Liberation Sans", Arial, sans-serif' font-weight="bold" fill="#111" textLength="29.87" lengthAdjust="spacingAndGlyphs">652</text>
<text x="230.34" y="1502.90" font-size="18.17" font-family='"Liberation Sans", Arial, sans-serif' font-weight="bold" fill="#111" textLength="30.05" lengthAdjust="spacingAndGlyphs">647</text>
<text x="311.57" y="1499.50" font-size="18.17" font-family='"Liberation Sans", Arial, sans-serif' font-weight="bold" fill="#111" textLength="28.72" lengthAdjust="spacingAndGlyphs">642</text>
<text x="388.67" y="1502.90" font-size="18.17" font-family='"Liberation Sans", Arial, sans-serif' font-weight="bold" fill="#111" textLength="28.79" lengthAdjust="spacingAndGlyphs">637</text>
<text x="475.74" y="1502.90" font-size="18.17" font-family='"Liberation Sans", Arial, sans-serif' font-weight="bold" fill="#111" textLength="29.87" lengthAdjust="spacingAndGlyphs">632</text>
<line x1="167.5" y1="1509.5" x2="167.5" y2="1513.5" stroke="#444" stroke-width="1.8"/>
<line x1="250.1" y1="1509.5" x2="250.1" y2="1513.5" stroke="#444" stroke-width="1.8"/>
<line x1="332.7" y1="1509.5" x2="332.7" y2="1513.5" stroke="#444" stroke-width="1.8"/>
<line x1="415.3" y1="1509.5" x2="415.3" y2="1513.5" stroke="#444" stroke-width="1.8"/>
<line x1="497.9" y1="1509.5" x2="497.9" y2="1513.5" stroke="#444" stroke-width="1.8"/>
<rect x="259.6" y="1514.3" width="97.7" height="24.9" fill="#5cc3ee" stroke="#333" stroke-width="1.8"/>
<text x="96.00" y="1535.80" font-size="18.02" font-family='"Liberation Sans", Arial, sans-serif' font-weight="bold" fill="#3c3c3c" textLength="10.79" lengthAdjust="spacingAndGlyphs">T</text>
<text x="112.07" y="1535.80" font-size="18.02" font-family='"Liberation Sans", Arial, sans-serif' font-weight="bold" fill="#3c3c3c" textLength="11.49" lengthAdjust="spacingAndGlyphs">C</text>
<text x="128.59" y="1535.80" font-size="18.02" font-family='"Liberation Sans", Arial, sans-serif' font-weight="bold" fill="#3c3c3c" textLength="11.49" lengthAdjust="spacingAndGlyphs">C</text>
<text x="145.11" y="1535.80" font-size="18.02" font-family='"Liberation Sans", Arial, sans-serif' font-weight="bold" fill="#3c3c3c" textLength="11.49" lengthAdjust="spacingAndGlyphs">C</text>
<text x="161.63" y="1535.80" font-size="18.02" font-family='"Liberation Sans", Arial, sans-serif' font-weight="bold" fill="#3c3c3c" textLength="11.49" lengthAdjust="spacingAndGlyphs">C</text>
<text x="178.41" y="1535.80" font-size="18.02" font-family='"Liberation Sans", Arial, sans-serif' font-weight="bold" fill="#3c3c3c" textLength="11.19" lengthAdjust="spacingAndGlyphs">A</text>
<text x="194.93" y="1535.80" font-size="18.02" font-family='"Liberation Sans", Arial, sans-serif' font-weight="bold" fill="#3c3c3c" textLength="11.19" lengthAdjust="spacingAndGlyphs">A</text>
<text x="211.45" y="1535.80" font-size="18.02" font-family='"Liberation Sans", Arial, sans-serif' font-weight="bold" fill="#3c3c3c" textLength="11.19" lengthAdjust="spacingAndGlyphs">A</text>
<text x="227.71" y="1535.80" font-size="18.02" font-family='"Liberation Sans", Arial, sans-serif' font-weight="bold" fill="#3c3c3c" textLength="11.49" lengthAdjust="spacingAndGlyphs">C</text>
<text x="244.23" y="1535.80" font-size="18.02" font-family='"Liberation Sans", Arial, sans-serif' font-weight="bold" fill="#3c3c3c" textLength="11.49" lengthAdjust="spacingAndGlyphs">C</text>
<text x="260.75" y="1535.80" font-size="18.02" font-family='"Liberation Sans", Arial, sans-serif' font-weight="bold" fill="#f4fbff" textLength="11.49" lengthAdjust="spacingAndGlyphs">C</text>
<text x="277.53" y="1535.80" font-size="18.02" font-family='"Liberation Sans", Arial, sans-serif' font-weight="bold" fill="#f4fbff" textLength="11.19" lengthAdjust="spacingAndGlyphs">A</text>
<text x="293.81" y="1535.80" font-size="18.02" font-family='"Liberation Sans", Arial, sans-serif' font-weight="bold" fill="#f4fbff" textLength="11.99" lengthAdjust="spacingAndGlyphs">G</text>
<text x="310.33" y="1535.80" font-size="18.02" font-family='"Liberation Sans", Arial, sans-serif' font-weight="bold" fill="#f4fbff" textLength="11.99" lengthAdjust="spacingAndGlyphs">G</text>
<text x="327.28" y="1535.80" font-size="18.02" font-family='"Liberation Sans", Arial, sans-serif' font-weight="bold" fill="#f4fbff" textLength="10.79" lengthAdjust="spacingAndGlyphs">T</text>
<text x="343.37" y="1535.80" font-size="18.02" font-family='"Liberation Sans", Arial, sans-serif' font-weight="bold" fill="#f4fbff" textLength="11.99" lengthAdjust="spacingAndGlyphs">G</text>
<text x="360.13" y="1535.80" font-size="18.02" font-family='"Liberation Sans", Arial, sans-serif' font-weight="bold" fill="#3c3c3c" textLength="11.19" lengthAdjust="spacingAndGlyphs">A</text>
<text x="376.41" y="1535.80" font-size="18.02" font-family='"Liberation Sans", Arial, sans-serif' font-weight="bold" fill="#3c3c3c" textLength="11.99" lengthAdjust="spacingAndGlyphs">G</text>
<text x="393.36" y="1535.80" font-size="18.02" font-family='"Liberation Sans", Arial, sans-serif' font-weight="bold" fill="#3c3c3c" textLength="10.79" lengthAdjust="spacingAndGlyphs">T</text>
<text x="409.43" y="1535.80" font-size="18.02" font-family='"Liberation Sans", Arial, sans-serif' font-weight="bold" fill="#3c3c3c" textLength="11.49" lengthAdjust="spacingAndGlyphs">C</text>
<text x="426.21" y="1535.80" font-size="18.02" font-family='"Liberation Sans", Arial, sans-serif' font-weight="bold" fill="#3c3c3c" textLength="11.19" lengthAdjust="spacingAndGlyphs">A</text>
<text x="442.49" y="1535.80" font-size="18.02" font-family='"Liberation Sans", Arial, sans-serif' font-weight="bold" fill="#3c3c3c" textLength="11.99" lengthAdjust="spacingAndGlyphs">G</text>
<text x="459.01" y="1535.80" font-size="18.02" font-family='"Liberation Sans", Arial, sans-serif' font-weight="bold" fill="#3c3c3c" textLength="11.99" lengthAdjust="spacingAndGlyphs">G</text>
<text x="475.53" y="1535.80" font-size="18.02" font-family='"Liberation Sans", Arial, sans-serif' font-weight="bold" fill="#3c3c3c" textLength="11.99" lengthAdjust="spacingAndGlyphs">G</text>
<text x="492.03" y="1535.80" font-size="18.02" font-family='"Liberation Sans", Arial, sans-serif' font-weight="bold" fill="#3c3c3c" textLength="11.49" lengthAdjust="spacingAndGlyphs">C</text>
<text x="508.55" y="1535.80" font-size="18.02" font-family='"Liberation Sans", Arial, sans-serif' font-weight="bold" fill="#3c3c3c" textLength="11.49" lengthAdjust="spacingAndGlyphs">C</text>
<text x="525.09" y="1535.80" font-size="18.02" font-family='"Liberation Sans", Arial, sans-serif' font-weight="bold" fill="#3c3c3c" textLength="11.99" lengthAdjust="spacingAndGlyphs">G</text>
<line x1="93.2" y1="1545.6" x2="537.6" y2="1545.6" stroke="#000" stroke-width="3"/>
<text x="72.82" y="1611.70" font-size="28.63" font-family='"Liberation Sans", Arial, sans-serif' font-weight="bold" fill="#111" textLength="112.05" lengthAdjust="spacingAndGlyphs">+/−IFN-g</text>
<text x="53.42" y="1634.90" font-size="26.02" font-family='"Liberation Sans", Arial, sans-serif' font-weight="bold" fill="#111" textLength="157.17" lengthAdjust="spacingAndGlyphs">Cell extracts</text>
<text x="114.40" y="1663.13" font-size="28.08" font-family='"Liberation Sans", Arial, sans-serif' font-weight="bold" fill="#111" textLength="25.69" lengthAdjust="spacingAndGlyphs">or</text>
<text x="2.61" y="1694.00" font-size="26.16" font-family='"Liberation Sans", Arial, sans-serif' font-weight="bold" fill="#111" textLength="281.24" lengthAdjust="spacingAndGlyphs">ZEB1-GFP transfected</text>
<text x="51.92" y="1719.00" font-size="26.16" font-family='"Liberation Sans", Arial, sans-serif' font-weight="bold" fill="#111" textLength="157.17" lengthAdjust="spacingAndGlyphs">Cell extracts</text>
<text x="63.03" y="1805.80" font-size="26.31" font-family='"Liberation Sans", Arial, sans-serif' font-weight="bold" fill="#111" textLength="161.37" lengthAdjust="spacingAndGlyphs">Ebox DNA IP</text>
<text x="95.35" y="1827.76" font-size="24.51" font-family='"Liberation Sans", Arial, sans-serif' font-weight="bold" fill="#111" textLength="62.56" lengthAdjust="spacingAndGlyphs">elute</text>
<text x="48.13" y="1920.30" font-size="28.34" font-family='"Liberation Sans", Arial, sans-serif' font-weight="bold" fill="#111" textLength="201.78" lengthAdjust="spacingAndGlyphs">anti-GFP (ZEB1)</text>
<text x="59.10" y="2002.70" font-size="28.34" font-family='"Liberation Sans", Arial, sans-serif' font-weight="bold" fill="#111" textLength="165.57" lengthAdjust="spacingAndGlyphs">IFN-g treated</text>
<text x="31.98" y="2030.70" font-size="28.63" font-family='"Liberation Sans", Arial, sans-serif' font-weight="bold" fill="#111" textLength="229.05" lengthAdjust="spacingAndGlyphs">endogenous ZEB1</text>
<text x="59.71" y="2114.20" font-size="30.64" font-family='"Liberation Sans", Arial, sans-serif' font-weight="bold" fill="#111" textLength="152.91" lengthAdjust="spacingAndGlyphs">Immunoblot</text>
<line x1="126.3" y1="1726.2" x2="126.3" y2="1764.7" stroke="#000" stroke-width="3" stroke-linecap="round"/>
<path d="M117.9,1761.5 L126.3,1763.8 L134.7,1761.5 L126.3,1778.7 Z" fill="#000" stroke="#000" stroke-width="0.8" stroke-linejoin="round"/>
<line x1="128.5" y1="1836.5" x2="128.5" y2="1875.6" stroke="#000" stroke-width="3" stroke-linecap="round"/>
<path d="M120.1,1872.4 L128.5,1874.7 L136.9,1872.4 L128.5,1889.6 Z" fill="#000" stroke="#000" stroke-width="0.8" stroke-linejoin="round"/>
<line x1="130.7" y1="1927.3" x2="130.7" y2="1963.6" stroke="#000" stroke-width="3" stroke-linecap="round"/>
<path d="M122.3,1960.4 L130.7,1962.7 L139.1,1960.4 L130.7,1977.6 Z" fill="#000" stroke="#000" stroke-width="0.8" stroke-linejoin="round"/>
<line x1="131.8" y1="2039.0" x2="131.8" y2="2076.7" stroke="#000" stroke-width="3" stroke-linecap="round"/>
<path d="M123.4,2073.5 L131.8,2075.8 L140.2,2073.5 L131.8,2090.7 Z" fill="#000" stroke="#000" stroke-width="0.8" stroke-linejoin="round"/>
<path d="M222,2104 L325.6,2104 L325.6,1671.3 L400,1671.3" stroke="#000" stroke-width="5" fill="none" stroke-linejoin="miter"/>
<path d="M325.6,1849.3 L400,1849.3" stroke="#000" stroke-width="5" fill="none"/>
<path d="M391.6,1658.8 L415.6,1671.8 L391.6,1684.8 L396.5,1671.8 Z" fill="#000"/>
<path d="M391.6,1836.3 L415.6,1849.3 L391.6,1862.3 L396.5,1849.3 Z" fill="#000"/>
<circle cx="406.4" cy="1981.8" r="1.2" fill="#333"/>
<defs>
<radialGradient id="sm1" cx="0.5" cy="0.5" r="0.5"><stop offset="0" stop-color="#4a4a4a" stop-opacity="0.55"/><stop offset="1" stop-color="#4a4a4a" stop-opacity="0"/></radialGradient>
<linearGradient id="streak" x1="0" y1="0" x2="1" y2="0"><stop offset="0" stop-color="#444" stop-opacity="0"/><stop offset="0.5" stop-color="#333" stop-opacity="0.8"/><stop offset="1" stop-color="#444" stop-opacity="0"/></linearGradient>
</defs>
<rect x="489.9" y="1628.8" width="142.4" height="82.9" fill="#737373" stroke="#0c0c0c" stroke-width="3.5" rx="3"/>
<rect x="492.3" y="1631.3" width="137.5" height="78.0" fill="none" stroke="#8e8e8e" stroke-width="1.2"/>
<rect x="654.4" y="1630.8" width="139.3" height="85.0" fill="#6d6d6d" stroke="#0c0c0c" stroke-width="3.5" rx="3"/>
<rect x="656.8" y="1633.3" width="134.4" height="80.1" fill="none" stroke="#8e8e8e" stroke-width="1.2"/>
<ellipse cx="680" cy="1680" rx="22" ry="30" fill="url(#sm1)"/>
<ellipse cx="705" cy="1650" rx="22" ry="16" fill="url(#sm1)" opacity="0.6"/>
<rect x="488.9" y="1807.8" width="143.4" height="83.4" fill="#727272" stroke="#0c0c0c" stroke-width="3.5" rx="3"/>
<rect x="491.3" y="1810.3" width="138.5" height="78.5" fill="none" stroke="#8e8e8e" stroke-width="1.2"/>
<rect x="653.8" y="1808.5" width="140.5" height="82.4" fill="#707070" stroke="#0c0c0c" stroke-width="3.5" rx="3"/>
<rect x="656.2" y="1811.0" width="135.6" height="77.5" fill="none" stroke="#8e8e8e" stroke-width="1.2"/>
<path d="M579,1670.5 C579,1667 584,1667.5 592,1668.5 C600,1667.5 608.6,1667 608.6,1669.5 C608.6,1672 602,1671.8 594,1672.8 C586,1673.5 579,1673.5 579,1670.5 Z" fill="#080808" stroke="#080808" stroke-width="1.2"/>
<rect x="576.5" y="1810.0" width="5.2" height="81.0" fill="url(#streak)"/>
<path d="M526.5,1851.5 C526.5,1848 535,1848.3 540,1848.3 C546,1848.3 550,1848 550,1850 C550,1852.5 545,1852.5 538,1853 C531,1853.5 526.5,1854 526.5,1851.5 Z" fill="#0a0a0a" stroke="#0a0a0a" stroke-width="1"/>
<path d="M563,1850 C563,1847 570,1846.8 578,1846.8 C585,1846.5 588,1847 588,1850 C588,1853 584,1853.3 577,1853.3 C569,1853.3 563,1853 563,1850 Z" fill="#050505" stroke="#050505" stroke-width="1"/>
<ellipse cx="607.5" cy="1849.5" rx="7.5" ry="1.6" fill="#606060"/>
<text x="557.28" y="1595.30" font-size="22.24" font-family='"Liberation Sans", Arial, sans-serif' font-weight="bold" fill="#111" textLength="32.85" lengthAdjust="spacingAndGlyphs">WT</text>
<line x1="541.3" y1="1599.3" x2="601.3" y2="1599.3" stroke="#111" stroke-width="2.8"/>
<text x="699.42" y="1595.30" font-size="22.24" font-family='"Liberation Sans", Arial, sans-serif' font-weight="bold" fill="#111" textLength="44.81" lengthAdjust="spacingAndGlyphs">MUT</text>
<line x1="692.0" y1="1599.3" x2="751.5" y2="1599.3" stroke="#111" stroke-width="2.8"/>
<text x="423.90" y="1618.00" font-size="23.98" font-family='"Liberation Sans", Arial, sans-serif' font-weight="bold" fill="#111" textLength="99.99" lengthAdjust="spacingAndGlyphs">ZEB1-GFP</text>
<text x="541.27" y="1625.82" font-size="27.43" font-family='"Liberation Sans", Arial, sans-serif' font-weight="bold" fill="#111" textLength="20.15" lengthAdjust="spacingAndGlyphs">−</text>
<text x="581.36" y="1624.32" font-size="29.54" font-family='"Liberation Sans", Arial, sans-serif' font-weight="bold" fill="#111" textLength="18.63" lengthAdjust="spacingAndGlyphs">+</text>
<text x="693.38" y="1621.12" font-size="27.43" font-family='"Liberation Sans", Arial, sans-serif' font-weight="bold" fill="#111" textLength="18.63" lengthAdjust="spacingAndGlyphs">−</text>
<text x="728.66" y="1620.79" font-size="35.45" font-family='"Liberation Sans", Arial, sans-serif' font-weight="bold" fill="#111" textLength="18.63" lengthAdjust="spacingAndGlyphs">+</text>
<text x="427.14" y="1679.30" font-size="23.26" font-family='"Liberation Sans", Arial, sans-serif' font-weight="bold" fill="#111" textLength="42.87" lengthAdjust="spacingAndGlyphs">GFP</text>
<text x="542.68" y="1776.70" font-size="23.26" font-family='"Liberation Sans", Arial, sans-serif' font-weight="bold" fill="#111" textLength="32.24" lengthAdjust="spacingAndGlyphs">WT</text>
<line x1="526.7" y1="1781.2" x2="586.1" y2="1781.2" stroke="#111" stroke-width="2.8"/>
<text x="460.50" y="1790.00" font-size="23.26" font-family='"Liberation Sans", Arial, sans-serif' font-weight="bold" fill="#111" textLength="53.40" lengthAdjust="spacingAndGlyphs">IFN-g</text>
<text x="527.11" y="1801.02" font-size="27.43" font-family='"Liberation Sans", Arial, sans-serif' font-weight="bold" fill="#111" textLength="19.56" lengthAdjust="spacingAndGlyphs">−</text>
<text x="566.16" y="1801.78" font-size="31.51" font-family='"Liberation Sans", Arial, sans-serif' font-weight="bold" fill="#111" textLength="18.63" lengthAdjust="spacingAndGlyphs">+</text>
<text x="699.48" y="1776.70" font-size="23.26" font-family='"Liberation Sans", Arial, sans-serif' font-weight="bold" fill="#111" textLength="42.63" lengthAdjust="spacingAndGlyphs">MUT</text>
<line x1="688.0" y1="1777.5" x2="748.0" y2="1777.5" stroke="#111" stroke-width="2.8"/>
<text x="689.27" y="1798.32" font-size="27.43" font-family='"Liberation Sans", Arial, sans-serif' font-weight="bold" fill="#111" textLength="20.15" lengthAdjust="spacingAndGlyphs">−</text>
<text x="727.89" y="1800.48" font-size="31.51" font-family='"Liberation Sans", Arial, sans-serif' font-weight="bold" fill="#111" textLength="19.56" lengthAdjust="spacingAndGlyphs">+</text>
<text x="423.92" y="1856.70" font-size="21.37" font-family='"Liberation Sans", Arial, sans-serif' font-weight="bold" fill="#111" textLength="49.93" lengthAdjust="spacingAndGlyphs">ZEB1</text>
<text x="931.26" y="1461.01" font-size="37.55" font-family='"Liberation Sans", Arial, sans-serif' font-weight="bold" fill="#000" textLength="13.57" lengthAdjust="spacingAndGlyphs">j</text>
<line x1="1006.5" y1="1556.3" x2="1006.5" y2="1816.2" stroke="#2a2a2a" stroke-width="2.5"/>
<line x1="1006.5" y1="1816.2" x2="1230.4" y2="1816.2" stroke="#2a2a2a" stroke-width="3"/>
<line x1="1002.0" y1="1556.8" x2="1006.5" y2="1556.8" stroke="#2a2a2a" stroke-width="2"/>
<text x="982.04" y="1563.70" font-size="20.06" font-family='"Liberation Sans", Arial, sans-serif' font-weight="bold" fill="#2a2a2a" textLength="18.72" lengthAdjust="spacingAndGlyphs">300</text>
<line x1="1002.0" y1="1643.7" x2="1006.5" y2="1643.7" stroke="#2a2a2a" stroke-width="2"/>
<text x="981.91" y="1650.60" font-size="20.06" font-family='"Liberation Sans", Arial, sans-serif' font-weight="bold" fill="#2a2a2a" textLength="18.86" lengthAdjust="spacingAndGlyphs">200</text>
<line x1="1002.0" y1="1731.0" x2="1006.5" y2="1731.0" stroke="#2a2a2a" stroke-width="2"/>
<text x="981.58" y="1737.90" font-size="20.06" font-family='"Liberation Sans", Arial, sans-serif' font-weight="bold" fill="#2a2a2a" textLength="19.20" lengthAdjust="spacingAndGlyphs">100</text>
<line x1="1002.0" y1="1816.2" x2="1006.5" y2="1816.2" stroke="#2a2a2a" stroke-width="2"/>
<text x="993.80" y="1823.10" font-size="20.06" font-family='"Liberation Sans", Arial, sans-serif' font-weight="bold" fill="#2a2a2a" textLength="7.02" lengthAdjust="spacingAndGlyphs">0</text>
<rect x="1034.2" y="1726.2" width="57.2" height="90.0" fill="#000"/>
<rect x="1146.0" y="1633.5" width="56.4" height="182.7" fill="#a2a1a6"/>
<line x1="1063.2" y1="1726.2" x2="1063.2" y2="1698.7" stroke="#000" stroke-width="3"/>
<line x1="1050.0" y1="1698.7" x2="1076.5" y2="1698.7" stroke="#000" stroke-width="3.5"/>
<line x1="1174.9" y1="1633.5" x2="1174.9" y2="1601.4" stroke="#000" stroke-width="3"/>
<line x1="1160.9" y1="1601.4" x2="1187.9" y2="1601.4" stroke="#000" stroke-width="3.5"/>
<line x1="1063.2" y1="1816.2" x2="1063.2" y2="1823.2" stroke="#666" stroke-width="2"/>
<line x1="1174.9" y1="1816.2" x2="1174.9" y2="1823.2" stroke="#666" stroke-width="2"/>
<text x="1010.55" y="1845.10" font-size="22.67" font-family='"Liberation Sans", Arial, sans-serif' font-weight="bold" fill="#1a1a1a" textLength="129.05" lengthAdjust="spacingAndGlyphs">0323-shSC-1</text>
<text x="1159.35" y="1845.10" font-size="22.67" font-family='"Liberation Sans", Arial, sans-serif' font-weight="bold" fill="#1a1a1a" textLength="117.74" lengthAdjust="spacingAndGlyphs">0323-shZ90</text>
<text transform="translate(974.80,1760.70) rotate(-90)" x="-1.79" y="0" font-size="24.56" font-family='"Liberation Sans", Arial, sans-serif' font-weight="bold" fill="#000" textLength="144.33" lengthAdjust="spacingAndGlyphs">LIF  (pg/ml)</text>
<line x1="1319.8" y1="1570.8" x2="1319.8" y2="1813.1" stroke="#2a2a2a" stroke-width="2.5"/>
<line x1="1319.8" y1="1813.1" x2="1546.3" y2="1813.1" stroke="#2a2a2a" stroke-width="3"/>
<line x1="1315.3" y1="1571.3" x2="1319.8" y2="1571.3" stroke="#2a2a2a" stroke-width="2"/>
<text x="1295.21" y="1578.20" font-size="20.06" font-family='"Liberation Sans", Arial, sans-serif' font-weight="bold" fill="#2a2a2a" textLength="18.86" lengthAdjust="spacingAndGlyphs">200</text>
<line x1="1315.3" y1="1631.9" x2="1319.8" y2="1631.9" stroke="#2a2a2a" stroke-width="2"/>
<text x="1294.88" y="1638.80" font-size="20.06" font-family='"Liberation Sans", Arial, sans-serif' font-weight="bold" fill="#2a2a2a" textLength="19.20" lengthAdjust="spacingAndGlyphs">150</text>
<line x1="1315.3" y1="1692.5" x2="1319.8" y2="1692.5" stroke="#2a2a2a" stroke-width="2"/>
<text x="1294.88" y="1699.40" font-size="20.06" font-family='"Liberation Sans", Arial, sans-serif' font-weight="bold" fill="#2a2a2a" textLength="19.20" lengthAdjust="spacingAndGlyphs">100</text>
<line x1="1315.3" y1="1753.1" x2="1319.8" y2="1753.1" stroke="#2a2a2a" stroke-width="2"/>
<text x="1301.25" y="1760.00" font-size="20.06" font-family='"Liberation Sans", Arial, sans-serif' font-weight="bold" fill="#2a2a2a" textLength="12.83" lengthAdjust="spacingAndGlyphs">50</text>
<line x1="1315.3" y1="1813.1" x2="1319.8" y2="1813.1" stroke="#2a2a2a" stroke-width="2"/>
<text x="1307.10" y="1820.00" font-size="20.06" font-family='"Liberation Sans", Arial, sans-serif' font-weight="bold" fill="#2a2a2a" textLength="7.02" lengthAdjust="spacingAndGlyphs">0</text>
<rect x="1348.9" y="1731.9" width="57.4" height="81.2" fill="#000"/>
<rect x="1462.3" y="1633.0" width="56.4" height="180.1" fill="#a2a1a6"/>
<line x1="1377.8" y1="1731.9" x2="1377.8" y2="1722.9" stroke="#000" stroke-width="3"/>
<line x1="1364.4" y1="1722.9" x2="1391.5" y2="1722.9" stroke="#000" stroke-width="3.5"/>
<line x1="1490.6" y1="1633.0" x2="1490.6" y2="1612.7" stroke="#000" stroke-width="3"/>
<line x1="1477.2" y1="1612.7" x2="1503.8" y2="1612.7" stroke="#000" stroke-width="3.5"/>
<line x1="1377.8" y1="1813.1" x2="1377.8" y2="1820.1" stroke="#666" stroke-width="2"/>
<line x1="1490.6" y1="1813.1" x2="1490.6" y2="1820.1" stroke="#666" stroke-width="2"/>
<text x="1322.75" y="1845.70" font-size="23.26" font-family='"Liberation Sans", Arial, sans-serif' font-weight="bold" fill="#1a1a1a" textLength="109.63" lengthAdjust="spacingAndGlyphs">0827-shSC</text>
<text x="1451.95" y="1845.70" font-size="23.26" font-family='"Liberation Sans", Arial, sans-serif' font-weight="bold" fill="#1a1a1a" textLength="117.76" lengthAdjust="spacingAndGlyphs">0827-shZ89</text>
<text transform="translate(1281.51,1785.00) rotate(-90)" x="-1.81" y="0" font-size="24.99" font-family='"Liberation Sans", Arial, sans-serif' font-weight="bold" fill="#000" textLength="145.65" lengthAdjust="spacingAndGlyphs">LIF  (pg/ml)</text>
</svg>
</body></html>
